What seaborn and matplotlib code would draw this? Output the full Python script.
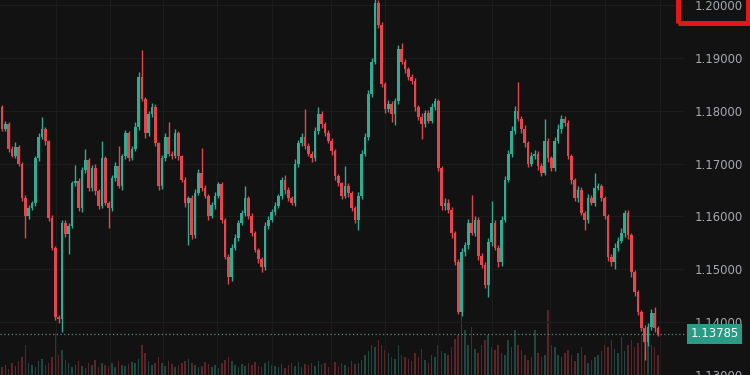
import numpy as np
import pandas as pd
import matplotlib
matplotlib.use("Agg")
import matplotlib.pyplot as plt
import seaborn as sns
from matplotlib.patches import Rectangle
from matplotlib.transforms import blended_transform_factory

# ---------------- data ----------------
first_open = 1.1807
closes = [
    1.1766, 1.1775, 1.1728, 1.1715, 1.1732, 1.1700, 1.1635, 1.1601, 1.1616, 1.1626,
    1.1710, 1.1751, 1.1766, 1.1742, 1.1597, 1.1541, 1.1410, 1.1406, 1.1588, 1.1566,
    1.1582, 1.1663, 1.1667, 1.1616, 1.1687, 1.1706, 1.1654, 1.1691, 1.1648, 1.1620,
    1.1710, 1.1626, 1.1616, 1.1672, 1.1695, 1.1657, 1.1714, 1.1757, 1.1710, 1.1728,
    1.1770, 1.1863, 1.1822, 1.1757, 1.1794, 1.1807, 1.1738, 1.1657, 1.1710, 1.1751,
    1.1719, 1.1715, 1.1757, 1.1714, 1.1669, 1.1626, 1.1635, 1.1564, 1.1644, 1.1682,
    1.1654, 1.1639, 1.1601, 1.1622, 1.1639, 1.1661, 1.1594, 1.1523, 1.1485, 1.1541,
    1.1560, 1.1588, 1.1607, 1.1635, 1.1601, 1.1569, 1.1537, 1.1519, 1.1504, 1.1582,
    1.1594, 1.1609, 1.1620, 1.1639, 1.1669, 1.1650, 1.1635, 1.1626, 1.1700, 1.1738,
    1.1751, 1.1734, 1.1719, 1.1710, 1.1762, 1.1794, 1.1775, 1.1757, 1.1743, 1.1723,
    1.1676, 1.1663, 1.1639, 1.1657, 1.1644, 1.1616, 1.1594, 1.1639, 1.1719, 1.1751,
    1.1831, 1.1893, 1.2004, 1.1963, 1.1850, 1.1803, 1.1813, 1.1794, 1.1818, 1.1916,
    1.1893, 1.1878, 1.1863, 1.1856, 1.1807, 1.1788, 1.1775, 1.1796, 1.1781, 1.1807,
    1.1818, 1.1691, 1.1620, 1.1626, 1.1612, 1.1569, 1.1513, 1.1420, 1.1532, 1.1545,
    1.1588, 1.1569, 1.1594, 1.1526, 1.1508, 1.1470, 1.1551, 1.1588, 1.1541, 1.1513,
    1.1594, 1.1669, 1.1719, 1.1762, 1.1800, 1.1785, 1.1766, 1.1738, 1.1700, 1.1714,
    1.1719, 1.1695, 1.1682, 1.1743, 1.1710, 1.1691, 1.1743, 1.1766, 1.1785, 1.1777,
    1.1714, 1.1669, 1.1635, 1.1650, 1.1607, 1.1594, 1.1635, 1.1626, 1.1654, 1.1657,
    1.1635, 1.1601, 1.1523, 1.1513, 1.1541, 1.1554, 1.1569, 1.1607, 1.1564, 1.1494,
    1.1457, 1.1420, 1.1388, 1.1363, 1.1391, 1.1418, 1.1388, 1.13785,
]
# upper / lower wick lengths beyond the body, in pips (0.0001)
wick_hi = [
    4, 6, 3, 5, 8, 4, 3, 5, 6, 4,
    5, 7, 22, 4, 3, 5, 3, 4, 6, 5,
    6, 4, 30, 5, 7, 22, 4, 6, 8, 3,
    32, 5, 4, 6, 8, 39, 5, 7, 4, 6,
    8, 10, 52, 4, 6, 8, 5, 3, 7, 6,
    28, 4, 8, 5, 3, 6, 4, 5, 7, 8,
    47, 5, 4, 6, 8, 5, 4, 3, 5, 6,
    7, 5, 6, 22, 4, 5, 3, 4, 5, 8,
    6, 5, 7, 4, 6, 9, 5, 4, 8, 6,
    7, 52, 5, 4, 8, 13, 5, 4, 6, 5,
    4, 5, 3, 39, 6, 5, 4, 8, 6, 7,
    8, 6, 10, 6, 5, 4, 7, 5, 6, 8,
    13, 5, 4, 6, 5, 4, 7, 6, 5, 8,
    6, 5, 4, 8, 6, 5, 4, 6, 9, 7,
    8, 52, 6, 5, 4, 6, 8, 41, 5, 4,
    7, 8, 6, 9, 8, 54, 5, 6, 4, 8,
    7, 5, 6, 41, 5, 4, 8, 9, 7, 5,
    6, 5, 4, 8, 5, 4, 7, 5, 28, 6,
    5, 4, 3, 6, 8, 7, 9, 6, 5, 4,
    5, 4, 3, 6, 8, 7, 10, 5,
]
wick_lo = [
    5, 4, 6, 3, 5, 4, 6, 41, 5, 4,
    6, 5, 4, 7, 5, 4, 6, 8, 24, 5,
    37, 4, 6, 5, 7, 4, 6, 5, 8, 6,
    5, 4, 37, 6, 5, 4, 7, 5, 6, 4,
    5, 6, 4, 8, 5, 6, 4, 7, 5, 6,
    4, 6, 5, 7, 4, 8, 80, 6, 5, 4,
    6, 5, 7, 4, 8, 5, 6, 4, 13, 7,
    5, 6, 4, 7, 5, 6, 4, 8, 9, 5,
    6, 4, 7, 5, 6, 8, 5, 4, 7, 6,
    5, 6, 4, 8, 5, 6, 7, 4, 5, 6,
    7, 5, 6, 4, 8, 5, 6, 19, 7, 5,
    6, 5, 4, 7, 6, 8, 5, 15, 22, 6,
    5, 7, 4, 6, 8, 5, 28, 6, 5, 4,
    6, 5, 8, 7, 6, 9, 5, 4, 8, 6,
    7, 5, 6, 8, 5, 6, 22, 7, 5, 8,
    6, 5, 4, 7, 6, 5, 8, 6, 7, 5,
    6, 8, 5, 4, 7, 6, 5, 4, 8, 6,
    5, 7, 6, 8, 5, 19, 6, 5, 7, 4,
    6, 5, 8, 7, 13, 6, 5, 7, 6, 8,
    7, 6, 5, 34, 8, 6, 7, 4,
]
volumes = [
    8, 10, 6, 12, 9, 14, 18, 30, 12, 10,
    8, 14, 16, 10, 12, 18, 42, 20, 25, 15,
    12, 8, 10, 14, 9, 7, 12, 10, 15, 8,
    12, 10, 9, 12, 8, 14, 10, 9, 11, 13,
    12, 16, 30, 22, 14, 10, 12, 18, 12, 9,
    14, 11, 8, 10, 12, 14, 16, 12, 10, 8,
    9, 13, 11, 8, 10, 7, 12, 15, 18, 14,
    10, 8, 11, 9, 12, 10, 13, 9, 8, 12,
    14, 10, 9, 8, 11, 7, 10, 12, 9, 13,
    8, 11, 10, 12, 9, 14, 11, 12, 8, 10,
    13, 9, 12, 10, 8, 14, 11, 12, 15, 20,
    24, 30, 28, 35, 30, 25, 22, 18, 16, 30,
    20, 18, 16, 14, 22, 18, 26, 15, 12, 20,
    18, 30, 24, 22, 20, 28, 36, 40, 75, 45,
    30, 48, 26, 22, 30, 35, 40, 28, 25, 30,
    22, 20, 35, 28, 45, 30, 25, 20, 15, 18,
    45, 22, 18, 20, 65, 30, 28, 20, 18, 22,
    25, 20, 14, 22, 28, 20, 12, 15, 18, 20,
    24, 30, 28, 35, 26, 22, 38, 24, 30, 35,
    28, 32, 40, 45, 38, 30, 28, 20,
]
price_ticks = [1.13, 1.14, 1.15, 1.16, 1.17, 1.18, 1.19, 1.20]
tick_labels = ["1.13000", "1.14000", "1.15000", "1.16000",
               "1.17000", "1.18000", "1.19000", "1.20000"]
last_price = 1.13785
last_label = "1.13785"

# ---------------- frame ----------------
n = len(closes)
opens = [first_open] + closes[:-1]
df = pd.DataFrame({"i": np.arange(n), "open": opens, "close": closes})
df["high"] = df[["open", "close"]].max(axis=1) + np.array(wick_hi) * 1e-4
df["low"] = df[["open", "close"]].min(axis=1) - np.array(wick_lo) * 1e-4
df["up"] = df["close"] >= df["open"]
df["vol"] = volumes

BG = "#121212"
UP = "#35aa90"
DN = "#e2464e"
GRID = "#1c1c1c"
TXT = "#a6a9b0"

sns.set_theme(style="dark", rc={
    "axes.facecolor": BG, "figure.facecolor": BG,
    "axes.edgecolor": BG, "grid.color": GRID,
})
plt.rcParams["font.family"] = ["DejaVu Sans"]

W, H = 750, 375
fig = plt.figure(figsize=(7.5, 3.75), dpi=100)
ax = fig.add_axes([0, 0, 685 / W, 1])
axv = ax.twinx()
ax.set_zorder(axv.get_zorder() + 1)
ax.patch.set_visible(False)
axv.patch.set_visible(True)
axv.patch.set_facecolor(BG)

xmin, xmax = -0.6, 205.1
ax.set_xlim(xmin, xmax)
ax.set_ylim(1.13071, 1.20094)

cols = np.where(df["up"], UP, DN)

# volume
axv.bar(df["i"], df["vol"], width=0.45, color=cols, alpha=0.36, linewidth=0)
axv.set_ylim(0, 375)
axv.set_yticks([])
axv.grid(False)

# grid
ax.set_yticks(price_ticks)
ax.set_yticklabels(tick_labels)
grid_px = [56, 110, 163, 217, 272, 331, 385, 438, 492, 550, 605, 660]
ax.set_xticks([(p - 2) / 3.33 for p in grid_px])
ax.set_xticklabels([])
ax.grid(True, color=GRID, linewidth=0.8)
ax.tick_params(axis="x", length=0)
ax.yaxis.tick_right()
ax.tick_params(axis="y", length=0, pad=7.3, labelsize=8.4, labelcolor=TXT)
for s in ax.spines.values():
    s.set_visible(False)
for s in axv.spines.values():
    s.set_visible(False)

# candles
ax.vlines(df["i"], df["low"], df["high"], colors=cols, linewidth=1.0, zorder=3)
body_lo = df[["open", "close"]].min(axis=1)
body_h = np.maximum((df["close"] - df["open"]).abs(), 0.00012)
ax.bar(df["i"], body_h, bottom=body_lo, width=0.8, color=cols, linewidth=0, zorder=4)

# last price line + label
ax.axhline(last_price, color="#5f8a82", linewidth=0.9, linestyle=(0, (1, 2)), zorder=2)
tr = blended_transform_factory(ax.transAxes, ax.transData)
ax.text(1.0 + 5.5 / 685, last_price - 0.00006, last_label, transform=tr, ha="left",
        va="center", fontsize=8.4, color="white", zorder=6,
        bbox=dict(boxstyle="square,pad=0.32", fc="#2a9b84", ec="none"))

# red highlight box around the top label
fig.patches.append(Rectangle((677.5 / W, (H - 22.5) / H), 70.5 / W, 40 / H,
                             transform=fig.transFigure, fill=False,
                             edgecolor="#e3161c", linewidth=3.6, zorder=10))

fig.savefig("out.png", dpi=100, facecolor=BG)
